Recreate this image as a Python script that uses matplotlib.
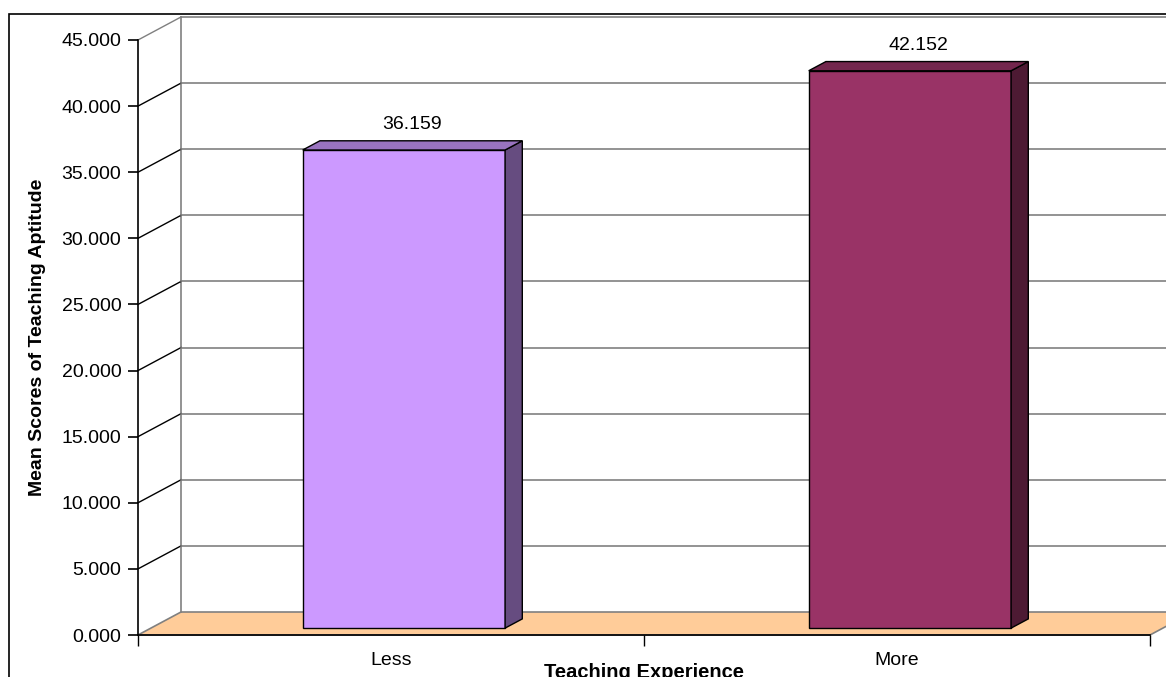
import matplotlib
matplotlib.use("Agg")
import matplotlib.pyplot as plt
from matplotlib.patches import Polygon, Rectangle
from matplotlib.lines import Line2D

categories = ["Less", "More"]
means = [36.159, 42.152]
value_labels = ["36.159", "42.152"]
yticks = [0, 5, 10, 15, 20, 25, 30, 35, 40, 45]

front_colors = ["#CC99FF", "#993366"]
side_colors = ["#664C80", "#4D1A33"]
top_colors = ["#9973BF", "#73264D"]

plt.rcParams['font.family'] = ['Liberation Sans', 'DejaVu Sans']

W, H = 1166, 677
fig = plt.figure(figsize=(W / 100, H / 100), dpi=100)
# front plane of the 3d box in pixels: x 138..1150, y(0)=635, y(45)=40
ax = fig.add_axes([138 / W, (H - 635) / H, 1012 / W, 595 / H])
ax.set_xlim(0, 2)
ax.set_ylim(0, 45)

# depth offset of the back wall, in data units
DX = 43 / 506
DY = 23 / (595 / 45)

# floor
floor = Polygon([(0, 0), (2, 0), (2 + DX, DY), (DX, DY)], closed=True,
                facecolor="#FFCC99", edgecolor="#808080", lw=1.2, clip_on=False, zorder=1)
ax.add_patch(floor)
ax.add_line(Line2D([0, 2], [0, 0], color="black", lw=1.2, clip_on=False, zorder=2))

# walls and gridlines
ax.add_line(Line2D([DX, DX], [DY, 45 + DY], color="#808080", lw=1.2, clip_on=False, zorder=1))
for v in yticks[1:]:
    ax.add_line(Line2D([0, DX], [v, v + DY], color="black" if v < 45 else "#808080",
                       lw=1.0, clip_on=False, zorder=1))
    ax.add_line(Line2D([DX, 2 + DX + 0.2], [v + DY, v + DY], color="#808080",
                       lw=1.2, clip_on=False, zorder=1))

# bars
bw = 0.4
d0, d1 = 0.3, 0.7
for i, (cat, v) in enumerate(zip(categories, means)):
    c = i + 0.5
    xl = c - bw / 2 + d0 * DX
    xr = c + bw / 2 + d0 * DX
    yb = d0 * DY
    yt = v + d0 * DY
    ddx = (d1 - d0) * DX
    ddy = (d1 - d0) * DY
    ax.add_patch(Polygon([(xl, yb), (xr, yb), (xr, yt), (xl, yt)], closed=True,
                         facecolor=front_colors[i], edgecolor="black", lw=1.0, zorder=5))
    ax.add_patch(Polygon([(xr, yb), (xr + ddx, yb + ddy), (xr + ddx, yt + ddy), (xr, yt)],
                         closed=True, facecolor=side_colors[i], edgecolor="black", lw=1.0, zorder=5))
    ax.add_patch(Polygon([(xl, yt), (xr, yt), (xr + ddx, yt + ddy), (xl + ddx, yt + ddy)],
                         closed=True, facecolor=top_colors[i], edgecolor="black", lw=1.0, zorder=5))
    ax.annotate(value_labels[i], (c + 0.5 * DX, v + d1 * DY), xytext=(0, 8),
                textcoords="offset pixels", ha="center", va="bottom", fontsize=14)

# axes styling
for s in ["top", "right"]:
    ax.spines[s].set_visible(False)
ax.spines["bottom"].set_visible(False)
ax.spines["left"].set_linewidth(1.2)
ax.set_yticks(yticks)
ax.set_yticklabels([f"{t:.3f}" for t in yticks], fontsize=14)
ax.tick_params(axis="y", direction="out", length=7, width=1.2, pad=5)
ax.set_xticks([0, 1, 2])
ax.set_xticklabels(["", "", ""])
ax.tick_params(axis="x", which="major", direction="out", length=8, width=1.0)
ax.set_xticks([0.5, 1.5], minor=True)
ax.set_xticklabels(categories, minor=True, fontsize=14)
ax.tick_params(axis="x", which="minor", length=0, pad=12)
ax.set_xlabel("Teaching Experience", fontsize=14.5, fontweight="bold", labelpad=-4)
ax.set_ylabel("Mean Scores of Teaching Aptitude", fontsize=14, fontweight="bold", labelpad=11)
ax.patch.set_visible(False)

# outer chart border
fig.add_artist(Rectangle((9 / W, -0.1), 1.2, (H - 14) / H + 0.1, transform=fig.transFigure,
                         fill=False, edgecolor="black", lw=1.2))

fig.savefig("out.png", dpi=100)
